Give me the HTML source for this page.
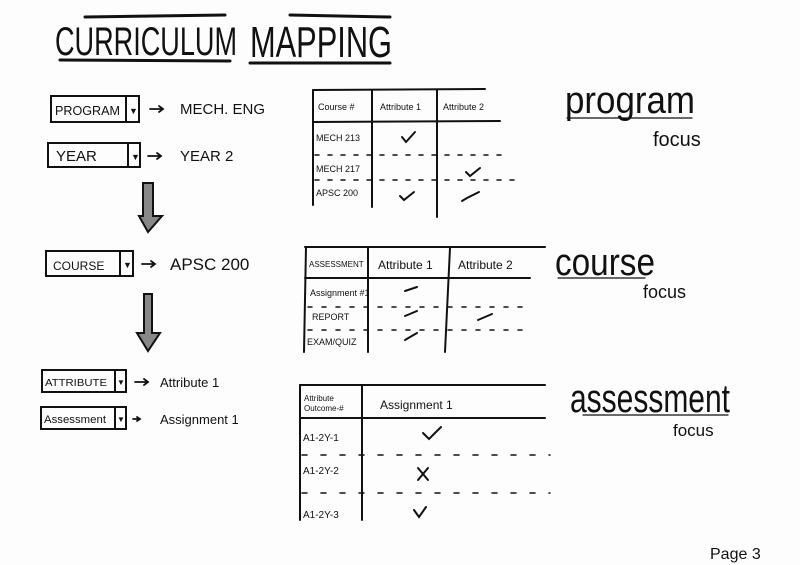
<!DOCTYPE html>
<html><head><meta charset="utf-8"><style>
html,body{margin:0;padding:0;background:#fdfdfd;}
svg{display:block;}
text{font-family:"Liberation Sans",sans-serif;fill:#111;}
</style></head><body>
<svg width="800" height="565" viewBox="0 0 800 565" xmlns="http://www.w3.org/2000/svg">
<rect width="800" height="565" fill="#fdfdfd"/>
<g stroke="#111" fill="none" stroke-linecap="round">
<line x1="85" y1="17" x2="225" y2="15" stroke-width="3"/>
<line x1="290" y1="15" x2="390" y2="17" stroke-width="3"/>
<line x1="60" y1="60" x2="230" y2="61" stroke-width="3"/>
<line x1="250" y1="63" x2="390" y2="63" stroke-width="3"/>
<rect x="51" y="96" width="88" height="26" stroke-width="2"/><line x1="126" y1="96" x2="126" y2="122" stroke-width="2"/>
<rect x="48" y="143" width="92" height="24" stroke-width="2"/><line x1="128" y1="143" x2="128" y2="167" stroke-width="2"/>
<rect x="46" y="251" width="87" height="25" stroke-width="2"/><line x1="120" y1="251" x2="120" y2="276" stroke-width="2"/>
<rect x="42" y="370" width="84" height="22" stroke-width="2"/><line x1="115" y1="370" x2="115" y2="392" stroke-width="2"/>
<rect x="41" y="407" width="85" height="22" stroke-width="2"/><line x1="115" y1="407" x2="115" y2="429" stroke-width="2"/>
<g stroke-width="1.8">
<path d="M150 109 H163 M159 106 L163 109 L159 112"/>
<path d="M148 156 H161 M157 153 L161 156 L157 159"/>
<path d="M142 264 H155 M151 261 L155 264 L151 267"/>
<path d="M135 382 H148 M144 379 L148 382 L144 385"/>
<path d="M133 419 H140 M137 417 L140 419 L137 421"/>
</g>
<path d="M143 183 L153 183 L153 216 L162 216 L148 232 L139 216 L143 216 Z" stroke-width="2" fill="#888"/>
<path d="M144 294 L152 294 L152 333 L160 333 L148 351 L137 333 L144 333 Z" stroke-width="2" fill="#888"/>
<g stroke-width="2"><line x1="313" y1="90" x2="485" y2="89"/><line x1="313" y1="90" x2="313" y2="205"/><line x1="372" y1="90" x2="372" y2="207"/><line x1="437" y1="90" x2="437" y2="217"/><line x1="313" y1="122" x2="500" y2="121"/></g>
<g stroke-width="1.5" stroke-dasharray="4 9"><line x1="315" y1="155" x2="510" y2="155"/><line x1="315" y1="180" x2="520" y2="180"/></g>
<g stroke-width="2"><line x1="305" y1="247" x2="545" y2="247"/><line x1="306" y1="247" x2="304" y2="352"/><line x1="368" y1="247" x2="368" y2="352"/><line x1="450" y1="248" x2="445" y2="352"/><line x1="305" y1="278" x2="530" y2="278"/></g>
<g stroke-width="1.5" stroke-dasharray="4 10"><line x1="308" y1="307" x2="530" y2="307"/><line x1="308" y1="330" x2="530" y2="330"/></g>
<g stroke-width="2"><line x1="300" y1="385" x2="545" y2="385"/><line x1="300" y1="385" x2="300" y2="520"/><line x1="362" y1="385" x2="362" y2="520"/><line x1="300" y1="418" x2="545" y2="418"/></g>
<g stroke-width="1.5" stroke-dasharray="5 14"><line x1="302" y1="455" x2="550" y2="455"/><line x1="302" y1="493" x2="550" y2="493"/></g>
<g stroke-width="2"><path d="M402 137 l4 5 l9 -10"/><path d="M400 196 l4 4 l10 -8"/><path d="M466 172 l4 4 l10 -8"/><path d="M462 201 l5 -3 l12 -6"/>
<path d="M405 291 l12 -4"/><path d="M405 316 l12 -5"/><path d="M405 340 l12 -7"/><path d="M478 320 l14 -6"/>
<path d="M423 433 l6 6 l12 -12"/><path d="M418 468 l10 12 M428 468 l-10 12"/><path d="M414 510 l5 7 l7 -10"/></g>
<g stroke-width="1.2"><line x1="567" y1="118" x2="692" y2="118"/><line x1="558" y1="278" x2="645" y2="278"/><line x1="583" y1="415" x2="728" y2="415"/></g>
</g>
<text x="55" y="55" font-size="40" textLength="182" lengthAdjust="spacingAndGlyphs">CURRICULUM</text>
<text x="250" y="57" font-size="44" textLength="142" lengthAdjust="spacingAndGlyphs">MAPPING</text>
<g font-size="13">
<text x="55" y="115" textLength="65" lengthAdjust="spacingAndGlyphs">PROGRAM</text><text x="129" y="114" font-size="9">▼</text>
<text x="56" y="161" font-size="15">YEAR</text><text x="131" y="160" font-size="9">▼</text>
<text x="53" y="270" font-size="12">COURSE</text><text x="123" y="268" font-size="9">▼</text>
<text x="45" y="386" font-size="10" textLength="62" lengthAdjust="spacingAndGlyphs">ATTRIBUTE</text><text x="117" y="385" font-size="8">▼</text>
<text x="44" y="423" font-size="11" textLength="62" lengthAdjust="spacingAndGlyphs">Assessment</text><text x="117" y="422" font-size="8">▼</text>
<text x="180" y="114" font-size="15">MECH. ENG</text>
<text x="180" y="161" font-size="15">YEAR 2</text>
<text x="170" y="270" font-size="17">APSC 200</text>
<text x="160" y="387" font-size="13">Attribute 1</text>
<text x="160" y="424" font-size="13">Assignment 1</text>
</g>
<g font-size="9">
<text x="318" y="110">Course #</text><text x="380" y="110">Attribute 1</text><text x="443" y="110">Attribute 2</text>
<text x="316" y="141">MECH 213</text><text x="316" y="172">MECH 217</text><text x="316" y="196">APSC 200</text>
<text x="309" y="267" font-size="8">ASSESSMENT</text><text x="378" y="269" font-size="12">Attribute 1</text><text x="458" y="269" font-size="12">Attribute 2</text>
<text x="310" y="296">Assignment #1</text><text x="312" y="320">REPORT</text><text x="307" y="345">EXAM/QUIZ</text>
<text x="304" y="401" font-size="8">Attribute</text><text x="304" y="411" font-size="8">Outcome-#</text>
<text x="380" y="409" font-size="12">Assignment 1</text>
<text x="303" y="441" font-size="10">A1-2Y-1</text><text x="303" y="474" font-size="10">A1-2Y-2</text><text x="303" y="518" font-size="10">A1-2Y-3</text>
</g>
<text x="565" y="113" font-size="38" textLength="130" lengthAdjust="spacingAndGlyphs">program</text>
<text x="653" y="146" font-size="20">focus</text>
<text x="555" y="275" font-size="38" textLength="100" lengthAdjust="spacingAndGlyphs">course</text>
<text x="643" y="298" font-size="18">focus</text>
<text x="570" y="412" font-size="40" textLength="160" lengthAdjust="spacingAndGlyphs">assessment</text>
<text x="673" y="436" font-size="17">focus</text>
<text x="710" y="559" font-size="16">Page 3</text>
</svg>
</body></html>
